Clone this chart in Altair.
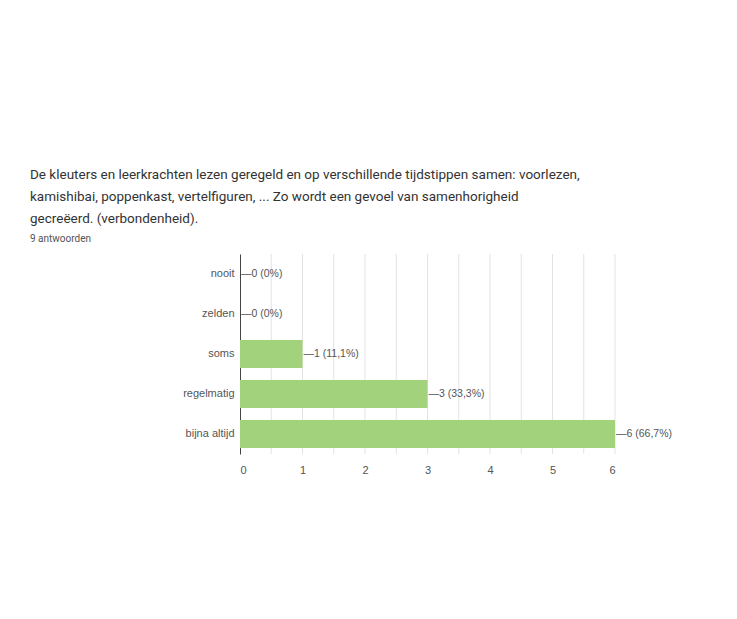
import altair as alt
import pandas as pd

categories = ["nooit", "zelden", "soms", "regelmatig", "bijna altijd"]
counts = [0, 0, 1, 3, 6]
labels = ["0 (0%)", "0 (0%)", "1 (11,1%)", "3 (33,3%)", "6 (66,7%)"]
x_ticks = [0, 1, 2, 3, 4, 5, 6]
grid_values = [0.5, 1, 1.5, 2, 2.5, 3, 3.5, 4, 4.5, 5, 5.5, 6]

title_lines = [
    "De kleuters en leerkrachten lezen geregeld en op verschillende tijdstippen samen: voorlezen,",
    "kamishibai, poppenkast, vertelfiguren, ... Zo wordt een gevoel van samenhorigheid",
    "gecreëerd. (verbondenheid).",
]
subtitle = "9 antwoorden"

df = pd.DataFrame({
    "categorie": categories,
    "aantal": counts,
    "label": ["\u2014" + l for l in labels],
})
grid_df = pd.DataFrame({"aantal": grid_values})

x_scale = alt.Scale(domain=[0, 6], nice=False)
x_axis = alt.Axis(
    values=x_ticks,
    format="d",
    ticks=False,
    domain=False,
    grid=False,
    labelColor="#555555",
    labelFontSize=11,
    labelPadding=10,
)

y_enc = alt.Y(
    "categorie:N",
    sort=categories,
    title=None,
    scale=alt.Scale(paddingInner=0.3, paddingOuter=0.15),
    axis=alt.Axis(
        domainColor="#444444",
        ticks=False,
        labelColor="#555555",
        labelFontSize=11,
        labelPadding=6,
        minExtent=210,
        grid=False,
    ),
)

grid = alt.Chart(grid_df).mark_rule(color="#e3e3e3", strokeWidth=1).encode(
    x=alt.X("aantal:Q", title=None, scale=x_scale, axis=x_axis)
)

bars = alt.Chart(df).mark_bar(color="#a3d27c").encode(
    x=alt.X("aantal:Q", title=None, scale=x_scale, axis=x_axis), y=y_enc
)

text = alt.Chart(df).mark_text(
    align="left", baseline="middle", dx=1, fontSize=10.5, color="#555555"
).encode(
    x=alt.X("aantal:Q"),
    y=alt.Y("categorie:N", sort=categories),
    text="label:N",
)

chart = (
    alt.layer(grid, bars, text)
    .properties(
        width=375,
        height=200,
        padding={"left": 22, "top": 160, "right": 20, "bottom": 10},
        title=alt.TitleParams(
            text=title_lines,
            subtitle=subtitle,
            anchor="start",
            frame="bounds",
            fontSize=13.5,
            fontWeight="normal",
            color="#333333",
            font="Roboto",
            lineHeight=22,
            subtitleFontSize=10,
            subtitleColor="#555555",
            subtitleFont="Roboto",
            subtitlePadding=8,
            offset=10,
        ),
    )
    .configure_view(stroke=None)
    .configure_axis(labelFont="Arial")
    .configure_text(font="Arial")
)

chart.save("out.html", embed_options={"renderer": "svg", "actions": False})
